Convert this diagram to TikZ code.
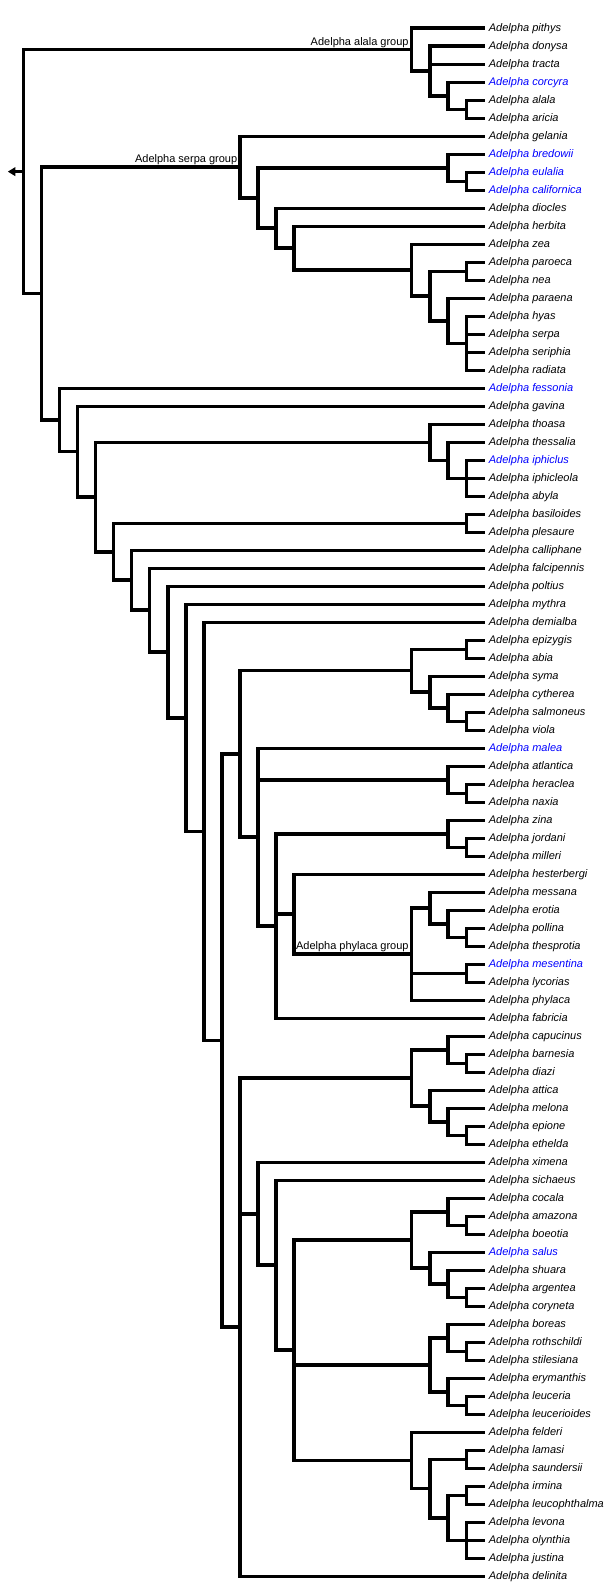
\documentclass[tikz,border=0pt]{standalone}
\usepackage{fontspec}
\setmainfont{Liberation Sans}
\usetikzlibrary{calc,arrows.meta}

\tikzset{
  branch/.style={line width=3.6pt},
  leaf/.style={anchor=west, inner xsep=4pt, inner ysep=0pt, text height=8pt, text depth=1pt,
    font=\fontsize{11pt}{13pt}\selectfont\itshape},
  newleaf/.style={leaf, text=blue},
  grouplabel/.style={anchor=south east, inner sep=0pt, xshift=-2.5pt, yshift=1.8pt,
    font=\fontsize{11pt}{13pt}\selectfont}
}
% a clade sits half way between its first and last child
\newcommand{\clade}[4]{\path let \p1=(#3), \p2=(#4) in coordinate (#1) at (#2pt,{(\y1+\y2)/2});}

\begin{document}
\begin{tikzpicture}[x=1pt,y=-18pt]
\useasboundingbox (0pt,10.3pt) rectangle (606pt,-1576.7pt);

% species
\node[leaf] (pithys) at (484.7,1) {Adelpha pithys};
\node[leaf] (donysa) at (484.7,2) {Adelpha donysa};
\node[leaf] (tracta) at (484.7,3) {Adelpha tracta};
\node[newleaf] (corcyra) at (484.7,4) {Adelpha corcyra};
\node[leaf] (alala) at (484.7,5) {Adelpha alala};
\node[leaf] (aricia) at (484.7,6) {Adelpha aricia};
\node[leaf] (gelania) at (484.7,7) {Adelpha gelania};
\node[newleaf] (bredowii) at (484.7,8) {Adelpha bredowii};
\node[newleaf] (eulalia) at (484.7,9) {Adelpha eulalia};
\node[newleaf] (californica) at (484.7,10) {Adelpha californica};
\node[leaf] (diocles) at (484.7,11) {Adelpha diocles};
\node[leaf] (herbita) at (484.7,12) {Adelpha herbita};
\node[leaf] (zea) at (484.7,13) {Adelpha zea};
\node[leaf] (paroeca) at (484.7,14) {Adelpha paroeca};
\node[leaf] (nea) at (484.7,15) {Adelpha nea};
\node[leaf] (paraena) at (484.7,16) {Adelpha paraena};
\node[leaf] (hyas) at (484.7,17) {Adelpha hyas};
\node[leaf] (serpa) at (484.7,18) {Adelpha serpa};
\node[leaf] (seriphia) at (484.7,19) {Adelpha seriphia};
\node[leaf] (radiata) at (484.7,20) {Adelpha radiata};
\node[newleaf] (fessonia) at (484.7,21) {Adelpha fessonia};
\node[leaf] (gavina) at (484.7,22) {Adelpha gavina};
\node[leaf] (thoasa) at (484.7,23) {Adelpha thoasa};
\node[leaf] (thessalia) at (484.7,24) {Adelpha thessalia};
\node[newleaf] (iphiclus) at (484.7,25) {Adelpha iphiclus};
\node[leaf] (iphicleola) at (484.7,26) {Adelpha iphicleola};
\node[leaf] (abyla) at (484.7,27) {Adelpha abyla};
\node[leaf] (basiloides) at (484.7,28) {Adelpha basiloides};
\node[leaf] (plesaure) at (484.7,29) {Adelpha plesaure};
\node[leaf] (calliphane) at (484.7,30) {Adelpha calliphane};
\node[leaf] (falcipennis) at (484.7,31) {Adelpha falcipennis};
\node[leaf] (poltius) at (484.7,32) {Adelpha poltius};
\node[leaf] (mythra) at (484.7,33) {Adelpha mythra};
\node[leaf] (demialba) at (484.7,34) {Adelpha demialba};
\node[leaf] (epizygis) at (484.7,35) {Adelpha epizygis};
\node[leaf] (abia) at (484.7,36) {Adelpha abia};
\node[leaf] (syma) at (484.7,37) {Adelpha syma};
\node[leaf] (cytherea) at (484.7,38) {Adelpha cytherea};
\node[leaf] (salmoneus) at (484.7,39) {Adelpha salmoneus};
\node[leaf] (viola) at (484.7,40) {Adelpha viola};
\node[newleaf] (malea) at (484.7,41) {Adelpha malea};
\node[leaf] (atlantica) at (484.7,42) {Adelpha atlantica};
\node[leaf] (heraclea) at (484.7,43) {Adelpha heraclea};
\node[leaf] (naxia) at (484.7,44) {Adelpha naxia};
\node[leaf] (zina) at (484.7,45) {Adelpha zina};
\node[leaf] (jordani) at (484.7,46) {Adelpha jordani};
\node[leaf] (milleri) at (484.7,47) {Adelpha milleri};
\node[leaf] (hesterbergi) at (484.7,48) {Adelpha hesterbergi};
\node[leaf] (messana) at (484.7,49) {Adelpha messana};
\node[leaf] (erotia) at (484.7,50) {Adelpha erotia};
\node[leaf] (pollina) at (484.7,51) {Adelpha pollina};
\node[leaf] (thesprotia) at (484.7,52) {Adelpha thesprotia};
\node[newleaf] (mesentina) at (484.7,53) {Adelpha mesentina};
\node[leaf] (lycorias) at (484.7,54) {Adelpha lycorias};
\node[leaf] (phylaca) at (484.7,55) {Adelpha phylaca};
\node[leaf] (fabricia) at (484.7,56) {Adelpha fabricia};
\node[leaf] (capucinus) at (484.7,57) {Adelpha capucinus};
\node[leaf] (barnesia) at (484.7,58) {Adelpha barnesia};
\node[leaf] (diazi) at (484.7,59) {Adelpha diazi};
\node[leaf] (attica) at (484.7,60) {Adelpha attica};
\node[leaf] (melona) at (484.7,61) {Adelpha melona};
\node[leaf] (epione) at (484.7,62) {Adelpha epione};
\node[leaf] (ethelda) at (484.7,63) {Adelpha ethelda};
\node[leaf] (ximena) at (484.7,64) {Adelpha ximena};
\node[leaf] (sichaeus) at (484.7,65) {Adelpha sichaeus};
\node[leaf] (cocala) at (484.7,66) {Adelpha cocala};
\node[leaf] (amazona) at (484.7,67) {Adelpha amazona};
\node[leaf] (boeotia) at (484.7,68) {Adelpha boeotia};
\node[newleaf] (salus) at (484.7,69) {Adelpha salus};
\node[leaf] (shuara) at (484.7,70) {Adelpha shuara};
\node[leaf] (argentea) at (484.7,71) {Adelpha argentea};
\node[leaf] (coryneta) at (484.7,72) {Adelpha coryneta};
\node[leaf] (boreas) at (484.7,73) {Adelpha boreas};
\node[leaf] (rothschildi) at (484.7,74) {Adelpha rothschildi};
\node[leaf] (stilesiana) at (484.7,75) {Adelpha stilesiana};
\node[leaf] (erymanthis) at (484.7,76) {Adelpha erymanthis};
\node[leaf] (leuceria) at (484.7,77) {Adelpha leuceria};
\node[leaf] (leucerioides) at (484.7,78) {Adelpha leucerioides};
\node[leaf] (felderi) at (484.7,79) {Adelpha felderi};
\node[leaf] (lamasi) at (484.7,80) {Adelpha lamasi};
\node[leaf] (saundersii) at (484.7,81) {Adelpha saundersii};
\node[leaf] (irmina) at (484.7,82) {Adelpha irmina};
\node[leaf] (leucophthalma) at (484.7,83) {Adelpha leucophthalma};
\node[leaf] (levona) at (484.7,84) {Adelpha levona};
\node[leaf] (olynthia) at (484.7,85) {Adelpha olynthia};
\node[leaf] (justina) at (484.7,86) {Adelpha justina};
\node[leaf] (delinita) at (484.7,87) {Adelpha delinita};

% clades, from the tips inwards
\clade{alalaC}{466.4}{alala}{aricia}
\clade{corcyraC}{448.0}{corcyra}{alalaC}
\clade{donysaC}{429.7}{donysa}{corcyraC}
\clade{alalagrp}{411.3}{pithys}{donysaC}

\clade{eulaliaC}{466.4}{eulalia}{californica}
\clade{bredowiiC}{448.0}{bredowii}{eulaliaC}
\clade{paroecaC}{466.4}{paroeca}{nea}
\clade{hyasC}{466.4}{hyas}{radiata}
\clade{paraenaC}{448.0}{paraena}{hyasC}
\clade{neaC}{429.7}{paroecaC}{paraenaC}
\clade{zeaC}{411.3}{zea}{neaC}
\clade{herbitaC}{294.05}{herbita}{zeaC}
\clade{dioclesC}{276.0}{diocles}{herbitaC}
\clade{bredowiiS}{257.95}{bredowiiC}{dioclesC}
\clade{serpagrp}{239.9}{gelania}{bredowiiS}

\clade{iphiclusC}{466.4}{iphiclus}{abyla}
\clade{thessaliaC}{448.0}{thessalia}{iphiclusC}
\clade{thoasaC}{429.7}{thoasa}{thessaliaC}
\clade{basiloidesC}{466.4}{basiloides}{plesaure}

\clade{epizygisC}{466.4}{epizygis}{abia}
\clade{salmoneusC}{466.4}{salmoneus}{viola}
\clade{cythereaC}{448.0}{cytherea}{salmoneusC}
\clade{symaC}{429.7}{syma}{cythereaC}
\clade{epizygisE}{411.3}{epizygisC}{symaC}
\clade{heracleaC}{466.4}{heraclea}{naxia}
\clade{atlanticaC}{448.0}{atlantica}{heracleaC}
\clade{jordaniC}{466.4}{jordani}{milleri}
\clade{zinaC}{448.0}{zina}{jordaniC}
\clade{pollinaC}{466.4}{pollina}{thesprotia}
\clade{erotiaC}{448.0}{erotia}{pollinaC}
\clade{messanaC}{429.7}{messana}{erotiaC}
\clade{mesentinaC}{466.4}{mesentina}{lycorias}
\clade{phylacagrp}{411.3}{messanaC}{phylaca}
\clade{hesterbergiC}{294.05}{hesterbergi}{phylacagrp}
\clade{zinaF}{276.0}{zinaC}{fabricia}
\clade{maleaC}{257.95}{malea}{zinaF}
\clade{epizygisP}{239.9}{epizygisE}{maleaC}

\clade{barnesiaC}{466.4}{barnesia}{diazi}
\clade{capucinusC}{448.0}{capucinus}{barnesiaC}
\clade{epioneC}{466.4}{epione}{ethelda}
\clade{melonaC}{448.0}{melona}{epioneC}
\clade{atticaC}{429.7}{attica}{melonaC}
\clade{capucinusG}{411.3}{capucinusC}{atticaC}
\clade{amazonaC}{466.4}{amazona}{boeotia}
\clade{cocalaC}{448.0}{cocala}{amazonaC}
\clade{argenteaC}{466.4}{argentea}{coryneta}
\clade{shuaraC}{448.0}{shuara}{argenteaC}
\clade{salusC}{429.7}{salus}{shuaraC}
\clade{cocalaG}{411.3}{cocalaC}{salusC}
\clade{rothschildiC}{466.4}{rothschildi}{stilesiana}
\clade{boreasC}{448.0}{boreas}{rothschildiC}
\clade{leuceriaC}{466.4}{leuceria}{leucerioides}
\clade{erymanthisC}{448.0}{erymanthis}{leuceriaC}
\clade{boreasG}{429.7}{boreasC}{erymanthisC}
\clade{lamasiC}{466.4}{lamasi}{saundersii}
\clade{irminaC}{466.4}{irmina}{leucophthalma}
\clade{levonaC}{466.4}{levona}{justina}
\clade{irminaG}{448.0}{irminaC}{levonaC}
\clade{lamasiG}{429.7}{lamasiC}{irminaG}
\clade{felderiC}{411.3}{felderi}{lamasiG}
\clade{cocalaQ}{294.05}{cocalaG}{felderiC}
\clade{sichaeusC}{276.0}{sichaeus}{cocalaQ}
\clade{ximenaC}{257.95}{ximena}{sichaeusC}
\clade{capucinusQ}{239.9}{capucinusG}{delinita}

\clade{n11}{221.85}{epizygisP}{capucinusQ}
\clade{n10}{203.8}{demialba}{n11}
\clade{n9}{185.75}{mythra}{n10}
\clade{n8}{167.7}{poltius}{n9}
\clade{n7}{149.65}{falcipennis}{n8}
\clade{n6}{131.6}{calliphane}{n7}
\clade{n5}{113.55}{basiloidesC}{n6}
\clade{n4}{95.5}{thoasaC}{n5}
\clade{n3}{77.45}{gavina}{n4}
\clade{n2}{59.4}{fessonia}{n3}
\clade{n1}{41.35}{serpagrp}{n2}
\clade{root}{23.3}{alalagrp}{n1}
\coordinate (rootarrow) at ($(root)+(-17.5pt,0pt)$);

% group names
\node[grouplabel] (alalalabel) at (alalagrp) {Adelpha alala group};
\node[grouplabel] (serpalabel) at (serpagrp) {Adelpha serpa group};
\node[grouplabel] (phylacalabel) at (phylacagrp) {Adelpha phylaca group};

% branches
\draw[branch,-{Triangle[length=7.5pt,width=8.5pt,sep=2pt]}] (root) -- (rootarrow);
\draw[branch] (root) |- (alalagrp) (root) |- (n1);

\draw[branch] (alalagrp) |- (pithys) (alalagrp) |- (donysaC);
\draw[branch] (donysaC) |- (donysa) (donysaC) |- (tracta) (donysaC) |- (corcyraC);
\draw[branch] (corcyraC) |- (corcyra) (corcyraC) |- (alalaC);
\draw[branch] (alalaC) |- (alala) (alalaC) |- (aricia);

\draw[branch] (n1) |- (serpagrp) (n1) |- (n2);
\draw[branch] (serpagrp) |- (gelania) (serpagrp) |- (bredowiiS);
\draw[branch] (bredowiiS) |- (bredowiiC) (bredowiiS) |- (dioclesC);
\draw[branch] (bredowiiC) |- (bredowii) (bredowiiC) |- (eulaliaC);
\draw[branch] (eulaliaC) |- (eulalia) (eulaliaC) |- (californica);
\draw[branch] (dioclesC) |- (diocles) (dioclesC) |- (herbitaC);
\draw[branch] (herbitaC) |- (herbita) (herbitaC) |- (zeaC);
\draw[branch] (zeaC) |- (zea) (zeaC) |- (neaC);
\draw[branch] (neaC) |- (paroecaC) (neaC) |- (paraenaC);
\draw[branch] (paroecaC) |- (paroeca) (paroecaC) |- (nea);
\draw[branch] (paraenaC) |- (paraena) (paraenaC) |- (hyasC);
\draw[branch] (hyasC) |- (hyas) (hyasC) |- (serpa) (hyasC) |- (seriphia) (hyasC) |- (radiata);

\draw[branch] (n2) |- (fessonia) (n2) |- (n3);
\draw[branch] (n3) |- (gavina) (n3) |- (n4);
\draw[branch] (n4) |- (thoasaC) (n4) |- (n5);
\draw[branch] (thoasaC) |- (thoasa) (thoasaC) |- (thessaliaC);
\draw[branch] (thessaliaC) |- (thessalia) (thessaliaC) |- (iphiclusC);
\draw[branch] (iphiclusC) |- (iphiclus) (iphiclusC) |- (iphicleola) (iphiclusC) |- (abyla);
\draw[branch] (n5) |- (basiloidesC) (n5) |- (n6);
\draw[branch] (basiloidesC) |- (basiloides) (basiloidesC) |- (plesaure);
\draw[branch] (n6) |- (calliphane) (n6) |- (n7);
\draw[branch] (n7) |- (falcipennis) (n7) |- (n8);
\draw[branch] (n8) |- (poltius) (n8) |- (n9);
\draw[branch] (n9) |- (mythra) (n9) |- (n10);
\draw[branch] (n10) |- (demialba) (n10) |- (n11);
\draw[branch] (n11) |- (epizygisP) (n11) |- (capucinusQ);

\draw[branch] (epizygisP) |- (epizygisE) (epizygisP) |- (maleaC);
\draw[branch] (epizygisE) |- (epizygisC) (epizygisE) |- (symaC);
\draw[branch] (epizygisC) |- (epizygis) (epizygisC) |- (abia);
\draw[branch] (symaC) |- (syma) (symaC) |- (cythereaC);
\draw[branch] (cythereaC) |- (cytherea) (cythereaC) |- (salmoneusC);
\draw[branch] (salmoneusC) |- (salmoneus) (salmoneusC) |- (viola);
\draw[branch] (maleaC) |- (malea) (maleaC) |- (atlanticaC) (maleaC) |- (zinaF);
\draw[branch] (atlanticaC) |- (atlantica) (atlanticaC) |- (heracleaC);
\draw[branch] (heracleaC) |- (heraclea) (heracleaC) |- (naxia);
\draw[branch] (zinaF) |- (zinaC) (zinaF) |- (hesterbergiC) (zinaF) |- (fabricia);
\draw[branch] (zinaC) |- (zina) (zinaC) |- (jordaniC);
\draw[branch] (jordaniC) |- (jordani) (jordaniC) |- (milleri);
\draw[branch] (hesterbergiC) |- (hesterbergi) (hesterbergiC) |- (phylacagrp);
\draw[branch] (phylacagrp) |- (messanaC) (phylacagrp) |- (mesentinaC) (phylacagrp) |- (phylaca);
\draw[branch] (messanaC) |- (messana) (messanaC) |- (erotiaC);
\draw[branch] (erotiaC) |- (erotia) (erotiaC) |- (pollinaC);
\draw[branch] (pollinaC) |- (pollina) (pollinaC) |- (thesprotia);
\draw[branch] (mesentinaC) |- (mesentina) (mesentinaC) |- (lycorias);

\draw[branch] (capucinusQ) |- (capucinusG) (capucinusQ) |- (ximenaC) (capucinusQ) |- (delinita);
\draw[branch] (capucinusG) |- (capucinusC) (capucinusG) |- (atticaC);
\draw[branch] (capucinusC) |- (capucinus) (capucinusC) |- (barnesiaC);
\draw[branch] (barnesiaC) |- (barnesia) (barnesiaC) |- (diazi);
\draw[branch] (atticaC) |- (attica) (atticaC) |- (melonaC);
\draw[branch] (melonaC) |- (melona) (melonaC) |- (epioneC);
\draw[branch] (epioneC) |- (epione) (epioneC) |- (ethelda);
\draw[branch] (ximenaC) |- (ximena) (ximenaC) |- (sichaeusC);
\draw[branch] (sichaeusC) |- (sichaeus) (sichaeusC) |- (cocalaQ);
\draw[branch] (cocalaQ) |- (cocalaG) (cocalaQ) |- (boreasG) (cocalaQ) |- (felderiC);
\draw[branch] (cocalaG) |- (cocalaC) (cocalaG) |- (salusC);
\draw[branch] (cocalaC) |- (cocala) (cocalaC) |- (amazonaC);
\draw[branch] (amazonaC) |- (amazona) (amazonaC) |- (boeotia);
\draw[branch] (salusC) |- (salus) (salusC) |- (shuaraC);
\draw[branch] (shuaraC) |- (shuara) (shuaraC) |- (argenteaC);
\draw[branch] (argenteaC) |- (argentea) (argenteaC) |- (coryneta);
\draw[branch] (boreasG) |- (boreasC) (boreasG) |- (erymanthisC);
\draw[branch] (boreasC) |- (boreas) (boreasC) |- (rothschildiC);
\draw[branch] (rothschildiC) |- (rothschildi) (rothschildiC) |- (stilesiana);
\draw[branch] (erymanthisC) |- (erymanthis) (erymanthisC) |- (leuceriaC);
\draw[branch] (leuceriaC) |- (leuceria) (leuceriaC) |- (leucerioides);
\draw[branch] (felderiC) |- (felderi) (felderiC) |- (lamasiG);
\draw[branch] (lamasiG) |- (lamasiC) (lamasiG) |- (irminaG);
\draw[branch] (lamasiC) |- (lamasi) (lamasiC) |- (saundersii);
\draw[branch] (irminaG) |- (irminaC) (irminaG) |- (levonaC);
\draw[branch] (irminaC) |- (irmina) (irminaC) |- (leucophthalma);
\draw[branch] (levonaC) |- (levona) (levonaC) |- (olynthia) (levonaC) |- (justina);
\end{tikzpicture}
\end{document}
